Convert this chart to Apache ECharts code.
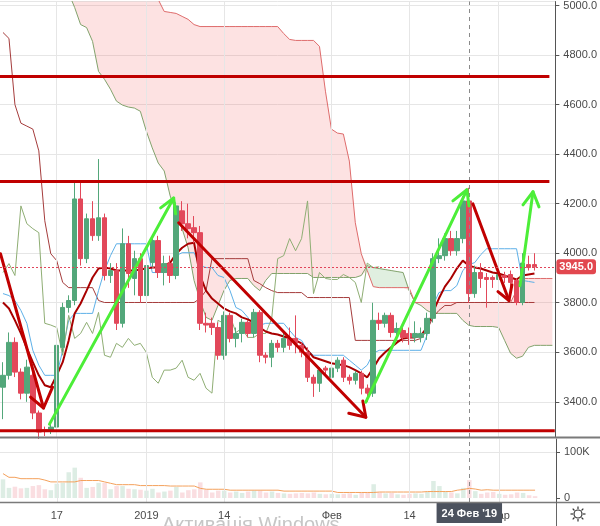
<!DOCTYPE html>
<html><head><meta charset="utf-8">
<script src="https://cdn.jsdelivr.net/npm/echarts@6/dist/echarts.min.js"></script>
<style>html,body{margin:0;padding:0;background:#fff}#c{width:600px;height:526px}</style>
</head><body><div id="c"></div>
<script>
// ---------- data ----------
const firstDay = [2018, 11, 8];   // 8 Dec 2018 (month is 0-based)
const dayCount = 93;
const tickIndex = [9, 24, 37, 55, 68, 83];
const tickText = ['17', '2019', '14', 'Фев', '14', 'Мар'];
const crossIndex = 78;
const crossLabel = "24 Фев '19";
const lastPrice = 3945;

const opens = [3459,3507,3640,3520,3435,3507,3355,3288,3284,3298,
 3620,3781,3809,4219,3978,4139,4071,4143,3910,3930,
 3717,4038,3898,3978,3829,3962,4051,3922,3958,3910,
 4171,4119,4103,4083,3717,3717,3700,3588,3749,3656,
 3676,3721,3676,3761,3588,3580,3636,3620,3656,3656,
 3628,3600,3499,3475,3536,3499,3536,3568,3499,3487,
 3515,3455,3435,3729,3717,3749,3680,3688,3676,3660,
 3660,3676,3737,3978,3990,4059,4010,4059,4211,3837,
 3922,3902,3902,3894,3910,3914,3890,3801,3954,3954];
const closes = [3507,3640,3520,3435,3540,3355,3278,3282,3298,3628,
 3781,3809,4219,3978,4139,4071,4143,3910,3930,3717,
 4038,3918,3978,3829,3950,4051,3922,3958,3910,4191,
 4119,4099,4083,3717,3710,3700,3588,3749,3656,3676,
 3721,3676,3761,3588,3580,3636,3620,3656,3628,3636,
 3600,3499,3475,3528,3528,3536,3568,3499,3487,3515,
 3455,3435,3729,3717,3749,3680,3696,3660,3660,3676,
 3676,3737,3978,3990,4059,4010,4059,4211,3837,3922,
 3898,3894,3894,3914,3902,3882,3801,3960,3942,3945];
const lows = [3330,3490,3500,3410,3400,3330,3250,3262,3270,3280,
 3600,3760,3790,3950,3960,4050,4050,3890,3880,3690,
 3700,3860,3830,3800,3790,3940,3900,3870,3880,3895,
 4090,4060,4040,3690,3680,3670,3570,3570,3640,3620,
 3640,3660,3660,3560,3555,3540,3600,3600,3610,3596,
 3580,3480,3420,3440,3500,3480,3520,3480,3470,3470,
 3430,3400,3420,3690,3700,3660,3660,3640,3630,3640,
 3640,3650,3720,3960,3970,3990,3990,4040,3800,3820,
 3860,3780,3860,3870,3880,3860,3790,3790,3930,3930];
const highs = [3560,3680,3660,3535,3570,3520,3365,3300,3320,3640,
 3800,3830,4290,4290,4160,4210,4380,4160,3960,3960,
 4100,4070,4010,4000,3975,4075,4070,3990,3990,4205,
 4210,4200,4150,4110,3760,3740,3720,3765,3760,3700,
 3735,3730,3775,3770,3600,3650,3650,3690,3700,3749,
 3640,3620,3510,3540,3545,3545,3580,3580,3510,3525,
 3525,3470,3800,3760,3760,3760,3720,3700,3700,3725,
 3700,3760,4000,4060,4080,4090,4090,4230,4264,3950,
 3960,3920,3910,3930,3925,3930,3900,4000,3990,4000];

const volumesK = [40.6,22,24.6,21,22,26,28,19,17,31,
 33,56,66,44,22,24,33,33,19,26,
 26,20,19,18,16,20,12,14,16,24,
 12,17,19,34,18,12,16,16,12,14,
 11,14,16,16,12,14,11,10,9,10,
 11,10,12,9,8,9,8,9,10,7,
 11,13,30,12,10,11,8,7,9,10,
 9,13,37,26,14,12,10,22,39,15,
 9,12,13,9,7,8,12,11,6,4];
const volumeMAK = [53,45,45,42,42,42,42,39,35,35,
 35,35,35,38,38,38,38,35,32,29,
 29,29,29,27,27,27,27,27,26,26,
 26,26,26,21,19,19,19,19,17,17,
 17,17,17,17,17,17,17,15,15,15,
 15,15,15,15,15,15,12,12,12,12,
 12,12,12,13,13,13,13,13,13,13,
 13,14,14,14,14,14,17,18.5,21,19.5,
 17,18,17,17,17,17,17,17,17,17];

const tenkan = [3837,3829,3809,3769,3717,3608,3548,3507,3507,3507,
 3608,3729,3757,3757,3757,3757,3849,3930,3990,4038,
 4038,4038,4038,4038,4038,3922,3922,3922,3922,3990,
 4002,4002,4002,3950,3942,3942,3910,3902,3850,3781,
 3769,3741,3700,3709,3717,3717,3717,3717,3688,3660,
 3648,3608,3588,3588,3588,3588,3588,3588,3568,3548,
 3528,3548,3596,3608,3608,3608,3608,3608,3608,3608,
 3608,3668,3789,3841,3849,3849,3869,3930,3954,3962,
 3994,4018,4018,4018,4018,4018,4018,3890,3886,3882];
const kijun = [4891,4867,4600,4525,4513,4501,4413,4131,3998,3970,
 3882,3861,3861,3861,3861,3861,3809,3801,3801,3801,
 3801,3801,3801,3801,3801,3801,3801,3801,3801,3801,
 3801,3801,3801,3817,3849,3978,3978,3978,3978,3978,
 3978,3978,3890,3877,3861,3849,3841,3841,3841,3841,
 3841,3821,3821,3821,3821,3821,3821,3821,3821,3648,
 3648,3648,3648,3648,3648,3648,3648,3648,3648,3648,
 3656,3688,3741,3769,3789,3789,3801,3801,3801,3801,
 3801,3801,3801,3801,3801,3801,3801,3801,3801,3801];
const emaLine = [3801,3777,3729,3676,3616,3560,3507,3467,3459,3507,
 3560,3648,3757,3797,3849,3902,3938,3942,3938,3930,
 3930,3930,3930,3934,3938,3942,3942,3950,3962,3998,
 4022,4038,4042,3910,3849,3817,3797,3777,3765,3757,
 3741,3733,3721,3700,3684,3676,3672,3664,3656,3648,
 3636,3608,3580,3572,3564,3556,3552,3548,3540,3528,
 3515,3499,3536,3576,3600,3620,3640,3656,3660,3660,
 3668,3700,3761,3817,3865,3898,3938,3970,3950,3942,
 3938,3930,3922,3918,3910,3902,3894,3910,3914,3918];
const spanA = [5420,5400,5380,5350,5320,5290,5260,5230,5200,5150,
 5100,5050,4992,4923,4911,4855,4734,4702,4662,4614,
 4598,4590,4586,4573,4493,4425,4364,4332,4231,4163,
 4099,4022,3890,3809,3741,3729,3789,3849,3890,3898,
 3898,3898,3869,3849,3890,3918,3918,3918,3918,3918,
 3918,3918,3902,3902,3902,3902,3902,3902,3902,3902,
 3910,3950,3942,3938,3934,3930,3926,3922,3849,3801,
 3789,3769,3757,3757,3757,3757,3757,3729,3709,3704,
 3704,3704,3704,3700,3648,3596,3576,3584,3620,3628,
 3628,3628,3628];
const spanB = [5650,5640,5620,5600,5580,5560,5540,5520,5500,5480,
 5460,5440,5420,5400,5380,5360,5330,5300,5270,5240,
 5200,5160,5120,5090,5060,5040,5024,4976,4972,4968,
 4956,4944,4923,4915,4915,4915,4915,4915,4915,4915,
 4915,4915,4915,4915,4915,4915,4915,4887,4863,4859,
 4859,4859,4859,4835,4654,4501,4485,4481,4372,4123,
 3998,3930,3865,3861,3861,3861,3861,3861,3861,3801,
 3801,3801,3801,3801,3801,3801,3801,3801,3801,3801,
 3801,3801,3801,3801,3801,3801,3849,3898,3898,3898,
 3898,3898,3898];
const chikouShift = 26;

// drawn annotations: [day index, price]
const levelPrices = [4713, 4289, 3283];
const levelEnds = [91.5, 91.5, 92.4];
const redArrows = [
  {from: [-0.42, 3998], to: [6.79, 3375], wingA: [4.61, 3419], wingB: [8.30, 3459]},
  {from: [29.42, 4123], to: [60.76, 3338], wingA: [57.91, 3354], wingB: [60.26, 3403]},
  {from: [78.70, 4199], to: [84.73, 3809], wingA: [82.89, 3845], wingB: [85.23, 3873]}
];
const greenArrows = [
  {from: [7.79, 3310], to: [28.58, 4223], wingA: [26.40, 4183], wingB: [28.91, 4159]},
  {from: [60.76, 3399], to: [77.69, 4256], wingA: [75.34, 4211], wingB: [78.03, 4191]},
  {from: [86.57, 3869], to: [88.76, 4248], wingA: [87.08, 4195], wingB: [89.76, 4187]}
];

// ---------- build ----------
const dates = [];
for (let i = 0; i < dayCount; i++) {
  const d = new Date(Date.UTC(firstDay[0], firstDay[1], firstDay[2] + i));
  dates.push(d.toISOString().slice(0, 10));
}
const candles = opens.map((o, i) => [o, closes[i], lows[i], highs[i]]);
const chikou = closes.slice(chikouShift);
const cloudBase = spanA.map((a, i) => Math.min(a, spanB[i]));
const cloudRed = spanA.map((a, i) => Math.max(spanB[i] - a, 0));
const cloudGreen = spanA.map((a, i) => Math.max(a - spanB[i], 0));

const FONT = '"Liberation Sans", Arial, sans-serif';
const UP = '#53a77a', DOWN = '#e2485a';
const LBL = '#4a4a4a';
const NO_PTR = {show: false};

const series = [];
// vertical grid lines (price pane)
series.push({type: 'line', xAxisIndex: 2, yAxisIndex: 0, data: [], silent: true, z: 0,
  markLine: {silent: true, symbol: ['none', 'none'], label: {show: false}, animation: false,
    lineStyle: {color: '#e6e6e6', type: 'solid', width: 1},
    data: tickIndex.map(i => ({xAxis: i}))}});
// cloud
series.push({type: 'line', xAxisIndex: 0, yAxisIndex: 0, data: cloudBase, stack: 'cloud', symbol: 'none',
  lineStyle: {width: 0, opacity: 0}, silent: true, z: 1});
series.push({type: 'line', xAxisIndex: 0, yAxisIndex: 0, data: cloudRed, stack: 'cloud', symbol: 'none',
  lineStyle: {width: 0, opacity: 0}, areaStyle: {color: 'rgba(242,100,100,0.19)', opacity: 1}, silent: true, z: 1});
series.push({type: 'line', xAxisIndex: 0, yAxisIndex: 0, data: cloudGreen, stack: 'cloud', symbol: 'none',
  lineStyle: {width: 0, opacity: 0}, areaStyle: {color: 'rgba(100,175,100,0.2)', opacity: 1}, silent: true, z: 1});
// ichimoku lines
const thin = (data, color, z, w) => ({type: 'line', xAxisIndex: 0, yAxisIndex: 0, data, symbol: 'none', silent: true,
  lineStyle: {color, width: w || 1}, z: z || 2});
series.push(thin(spanA, '#82a26c'));
series.push(thin(spanB, '#de6b6b'));
series.push(thin(kijun, '#a53c3c'));
series.push(thin(tenkan, '#5db0e8'));
series.push(thin(chikou, '#8fae74'));
series.push(thin(emaLine, '#a80000', 3, 2));
// candles
series.push({type: 'candlestick', xAxisIndex: 0, yAxisIndex: 0, data: candles, barWidth: 5, silent: true, z: 4,
  itemStyle: {color: UP, color0: DOWN, borderColor: UP, borderColor0: DOWN, borderWidth: 1}});
// horizontal levels
levelPrices.forEach((p, k) => series.push({type: 'line', xAxisIndex: 2, yAxisIndex: 0,
  data: [[-0.5, p], [levelEnds[k], p]], symbol: 'none', silent: true, z: 6,
  lineStyle: {color: '#c00000', width: 3}}));
// arrows
const addArrow = (a, color) => {
  series.push({type: 'line', xAxisIndex: 2, yAxisIndex: 0, data: [a.from, a.to], symbol: 'none', silent: true, z: 7,
    lineStyle: {color, width: 3, cap: 'round'}});
  series.push({type: 'line', xAxisIndex: 2, yAxisIndex: 0, data: [a.wingA, a.to, a.wingB], symbol: 'none', silent: true, z: 7,
    lineStyle: {color, width: 3, cap: 'round', join: 'round'}});
};
redArrows.forEach(a => addArrow(a, '#c00000'));
greenArrows.forEach(a => addArrow(a, '#4cee38'));
// crosshair in price pane
series.push({type: 'line', xAxisIndex: 2, yAxisIndex: 0, data: [], silent: true, z: 8,
  markLine: {silent: true, symbol: ['none', 'none'], label: {show: false}, animation: false,
    lineStyle: {color: '#8a8a8a', type: [4, 4], width: 1},
    data: [{xAxis: crossIndex}]}});
// volume
series.push({type: 'bar', xAxisIndex: 1, yAxisIndex: 1, barWidth: 4.5, silent: true, z: 2,
  data: volumesK.map((v, i) => ({value: v, itemStyle: {color: closes[i] >= opens[i] ? 'rgba(83,167,122,0.2)' : 'rgba(226,72,90,0.18)'}})),
  markLine: {silent: true, symbol: ['none', 'none'], label: {show: false}, animation: false,
    lineStyle: {color: '#e6e6e6', type: 'solid', width: 1},
    data: [{yAxis: 100}].concat(tickIndex.map(i => ({xAxis: dates[i]})))}});
series.push({type: 'line', xAxisIndex: 1, yAxisIndex: 1, data: volumeMAK, symbol: 'none', silent: true, z: 3,
  lineStyle: {color: '#f4a15c', width: 1}});

// decorations (gear icon, separators, watermark)
const gear = [{type: 'circle', shape: {cx: 578, cy: 514, r: 4}, style: {fill: 'none', stroke: '#333', lineWidth: 1.2}}];
for (let k = 0; k < 8; k++) {
  const a = k * Math.PI / 4;
  gear.push({type: 'line', shape: {x1: 578 + 5 * Math.cos(a), y1: 514 + 5 * Math.sin(a), x2: 578 + 7.5 * Math.cos(a), y2: 514 + 7.5 * Math.sin(a)},
    style: {stroke: '#333', lineWidth: 1.2}});
}

const option = {
  animation: false,
  backgroundColor: '#ffffff',
  grid: [
    {left: 0, right: 44, top: 0, height: 437},
    {left: 0, right: 44, top: 439, height: 63}
  ],
  xAxis: [
    {type: 'category', gridIndex: 0, data: dates, boundaryGap: true, axisLine: {show: false}, axisTick: {show: false},
      axisLabel: {show: false}, splitLine: {show: false}, axisPointer: NO_PTR},
    {type: 'category', gridIndex: 1, data: dates, boundaryGap: true, axisLine: {show: false},
      axisTick: {show: true, alignWithLabel: true, interval: (i) => tickIndex.includes(i), length: 4, lineStyle: {color: '#666'}},
      axisLabel: {interval: (i) => tickIndex.includes(i), formatter: (v, i) => tickText[tickIndex.indexOf(i)] || '',
        color: LBL, fontSize: 11, fontFamily: FONT, margin: 8},
      splitLine: {show: false},
      axisPointer: {show: true, type: 'line', value: crossIndex, status: 'show', snap: false, triggerTooltip: false,
        lineStyle: {color: '#8a8a8a', type: [4, 4], width: 1},
        label: {show: true, formatter: crossLabel, backgroundColor: '#4c525e', color: '#fff', fontSize: 11,
          fontWeight: 'bold', fontFamily: FONT, padding: [5, 5, 4, 5], margin: 1, borderRadius: 0}}},
    {type: 'value', gridIndex: 0, min: -0.5, max: 92.5, show: false, axisPointer: NO_PTR},
    {type: 'value', gridIndex: 1, min: -0.5, max: 92.5, show: false, axisPointer: NO_PTR}
  ],
  yAxis: [
    {type: 'value', gridIndex: 0, position: 'right', min: 3258, max: 5016, splitNumber: 9, minInterval: 200, maxInterval: 200,
      axisLine: {show: true, onZero: false, lineStyle: {color: '#555'}}, axisTick: {show: true, length: 4, lineStyle: {color: '#555'}},
      axisLabel: {showMinLabel: false, showMaxLabel: false, formatter: v => v.toFixed(1), color: LBL, fontSize: 11, fontFamily: FONT, margin: 8},
      splitLine: {show: true, lineStyle: {color: '#e6e6e6'}},
      axisPointer: {show: true, type: 'line', value: lastPrice, status: 'show', snap: false, triggerTooltip: false,
        lineStyle: {color: '#e0455a', type: [2, 2], width: 1},
        label: {show: true, formatter: lastPrice.toFixed(1), backgroundColor: '#e2474f', color: '#fff', fontSize: 11,
          fontWeight: 'bold', fontFamily: FONT, padding: [2, 3, 2, 3], margin: 1}}},
    {type: 'value', gridIndex: 1, position: 'right', min: -8.7, max: 128.3, axisPointer: NO_PTR,
      axisLine: {show: true, onZero: false, lineStyle: {color: '#555'}},
      axisTick: {show: true, length: 4, customValues: [0, 100], lineStyle: {color: '#555'}},
      axisLabel: {customValues: [0, 100], formatter: v => v === 0 ? '0' : (v === 100 ? '100K' : ''),
        color: LBL, fontSize: 11, fontFamily: FONT, margin: 8},
      splitLine: {show: false}}
  ],
  series,
  graphic: [
    {type: 'text', x: 162, y: 515, silent: true, z: 1,
      style: {text: 'Активація Windows', fontSize: 20, fontFamily: FONT, fill: '#c6c6c6', verticalAlign: 'top'}},
    {type: 'line', shape: {x1: 0, y1: 437.5, x2: 600, y2: 437.5}, style: {stroke: '#7a7a7a', lineWidth: 2}, z: 100},
    {type: 'line', shape: {x1: 0, y1: 502.5, x2: 600, y2: 502.5}, style: {stroke: '#7a7a7a', lineWidth: 1.5}, z: 100},
    {type: 'line', shape: {x1: 556.5, y1: 502, x2: 556.5, y2: 526}, style: {stroke: '#666', lineWidth: 1}, z: 100},
    {type: 'group', children: gear}
  ]
};
const chart = echarts.init(document.getElementById('c'));
chart.setOption(option);
</script>
</body></html>
